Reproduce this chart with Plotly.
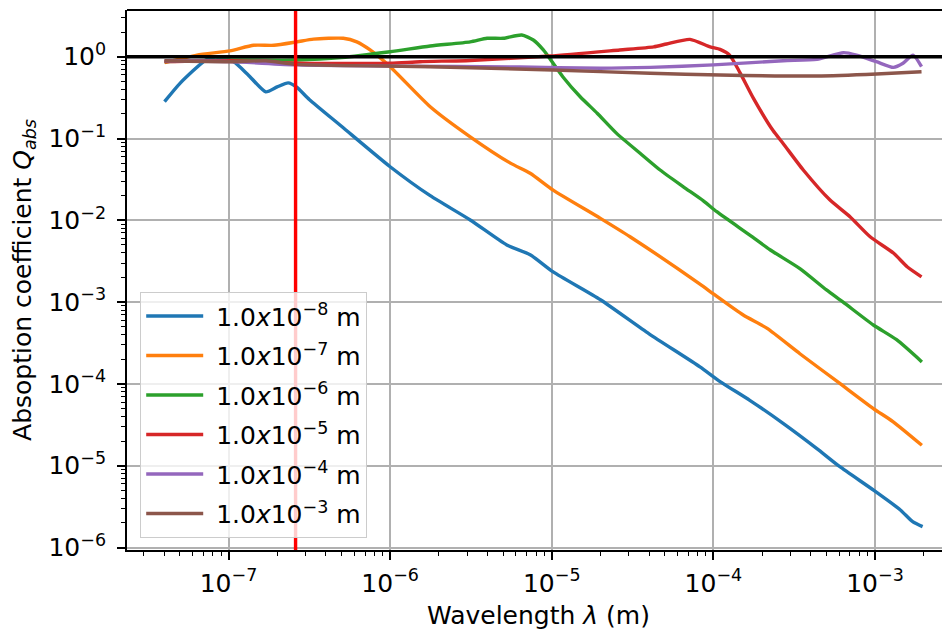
import plotly.graph_objects as go

# ---------------- data ----------------
NB = "\u00a0"
labels = [NB + "1.0<i>x</i>10<sup>−8</sup> m", NB + "1.0<i>x</i>10<sup>−7</sup> m",
          NB + "1.0<i>x</i>10<sup>−6</sup> m", NB + "1.0<i>x</i>10<sup>−5</sup> m",
          NB + "1.0<i>x</i>10<sup>−4</sup> m", NB + "1.0<i>x</i>10<sup>−3</sup> m"]
colors = ["#1f77b4", "#ff7f0e", "#2ca02c", "#d62728", "#9467bd", "#8c564b"]

wl_a = [4.02e-8, 5.01e-8, 7.24e-8, 8.32e-8, 1.07e-7, 1.32e-7, 1.70e-7, 2.0e-7,
        2.34e-7, 2.63e-7, 3.16e-7, 5.0e-7, 1.0e-6, 1.77e-6, 3.13e-6,
        5.27e-6, 7.35e-6, 1.02e-5, 2.0e-5, 4.0e-5, 8.26e-5, 1.10e-4, 1.68e-4,
        2.70e-4, 4.37e-4, 6.03e-4, 9.84e-4, 1.43e-3, 1.71e-3, 1.97e-3]
q_a = [0.282, 0.473, 0.912, 0.99, 0.871, 0.603, 0.372, 0.427,
       0.479, 0.427, 0.30, 0.141, 0.0452, 0.0200, 0.0101,
       5.0e-3, 3.8e-3, 2.34e-3, 1.07e-3, 4.1e-4, 1.62e-4, 1.07e-4, 6.3e-5,
       3.3e-5, 1.62e-5, 9.8e-6, 5.0e-6, 2.9e-6, 2.07e-6, 1.8e-6]

wl_b = [4.02e-8, 6.38e-8, 1.02e-7, 1.43e-7, 1.91e-7, 2.65e-7, 3.36e-7, 5.13e-7,
        6.22e-7, 7.52e-7, 1.0e-6, 1.77e-6, 3.13e-6, 5.55e-6, 7.35e-6, 1.02e-5,
        2.0e-5, 3.05e-5, 8.26e-5, 1.0e-4, 1.53e-4, 2.14e-4, 3.43e-4, 6.03e-4,
        9.77e-4, 1.29e-3, 1.95e-3]
q_b = [0.845, 1.047, 1.18, 1.38, 1.38, 1.52, 1.64, 1.68,
       1.52, 1.21, 0.755, 0.245, 0.105, 0.050, 0.0376, 0.0234,
       0.01057, 6.3e-3, 1.66e-3, 1.26e-3, 6.95e-4, 4.8e-4, 2.34e-4, 1.02e-4,
       5.0e-5, 3.47e-5, 1.78e-5]

wl_c = [4.02e-8, 1.02e-7, 2.65e-7, 5.0e-7, 1.0e-6, 1.77e-6, 3.13e-6, 3.98e-6,
        5.01e-6, 6.52e-6, 7.69e-6, 8.87e-6, 1.02e-5, 1.17e-5, 1.50e-5, 1.91e-5,
        2.52e-5, 3.52e-5, 4.68e-5, 6.52e-5, 8.71e-5, 1.05e-4, 1.68e-4, 2.24e-4,
        3.43e-4, 5.01e-4, 6.35e-4, 9.77e-4, 1.36e-3, 1.95e-3]
q_c = [0.871, 0.912, 0.912, 0.977, 1.15, 1.35, 1.52, 1.68,
       1.68, 1.84, 1.60, 1.21, 0.832, 0.57, 0.324, 0.204,
       0.1156, 0.066, 0.0412, 0.0257, 0.0172, 0.01274, 6.6e-3, 4.37e-3,
       2.57e-3, 1.41e-3, 1.0e-3, 5.25e-4, 3.47e-4, 1.86e-4]

wl_d = [4.02e-8, 1.02e-7, 2.65e-7, 1.0e-6, 1.53e-6, 3.13e-6, 9.77e-6, 2.63e-5,
        4.27e-5, 5.13e-5, 7.16e-5, 9.55e-5, 1.10e-4, 1.26e-4, 1.46e-4, 1.77e-4,
        2.34e-4, 2.70e-4, 3.60e-4, 5.25e-4, 7.0e-4, 9.33e-4, 1.30e-3, 1.58e-3,
        1.94e-3]
q_d = [0.871, 0.891, 0.832, 0.832, 0.869, 0.90, 1.02, 1.21,
       1.32, 1.43, 1.63, 1.32, 1.23, 1.047, 0.64, 0.31,
       0.125, 0.087, 0.0412, 0.0178, 0.01107, 6.3e-3, 3.98e-3, 2.71e-3,
       2.04e-3]

wl_e = [4.02e-8, 1.02e-7, 2.65e-7, 1.0e-6, 6.37e-6, 2.0e-5, 4.07e-5, 1.0e-4,
        2.70e-4, 4.37e-4, 6.37e-4, 7.69e-4, 1.02e-3, 1.30e-3, 1.49e-3, 1.72e-3,
        1.94e-3]
q_e = [0.891, 0.871, 0.794, 0.767, 0.75, 0.724, 0.741, 0.794,
       0.893, 0.929, 1.12, 1.047, 0.869, 0.741, 0.832, 1.047,
       0.755]

wl_f = [4.02e-8, 1.02e-7, 1.70e-7, 2.65e-7, 1.77e-6, 1.02e-5, 4.07e-5, 1.10e-4,
        4.37e-4, 1.02e-3, 1.94e-3]
q_f = [0.891, 0.869, 0.891, 0.807, 0.755, 0.687, 0.627, 0.597,
       0.581, 0.615, 0.656]

series_wl = [wl_a, wl_b, wl_c, wl_d, wl_e, wl_f]
series_q = [q_a, q_b, q_c, q_d, q_e, q_f]

ref_wavelength = 2.6e-7   # red vertical marker
ref_q = 1.0               # black horizontal marker

x_ticks = [1e-7, 1e-6, 1e-5, 1e-4, 1e-3]
x_ticktext = ["10<sup>−7</sup>", "10<sup>−6</sup>", "10<sup>−5</sup>",
              "10<sup>−4</sup>", "10<sup>−3</sup>"]
y_ticks = [1e-6, 1e-5, 1e-4, 1e-3, 1e-2, 1e-1, 1e0]
y_ticktext = ["10<sup>−6</sup>", "10<sup>−5</sup>", "10<sup>−4</sup>",
              "10<sup>−3</sup>", "10<sup>−2</sup>", "10<sup>−1</sup>", "10<sup>0</sup>"]

# ---------------- figure ----------------
X_RANGE = [-7.628, -2.536]
Y_RANGE = [-6.03, 0.571]
FONT = "DejaVu Sans"

fig = go.Figure()
for i, (wl, q) in enumerate(zip(series_wl, series_q)):
    fig.add_trace(go.Scatter(
        x=wl, y=q, mode="lines", name=labels[i], legendgroup=str(i),
        line=dict(color=colors[i], width=3.4, shape="spline", smoothing=0.6)))

fig.add_trace(go.Scatter(x=[10 ** X_RANGE[0], 10 ** X_RANGE[1]], y=[ref_q, ref_q],
                         mode="lines", line=dict(color="black", width=3.4),
                         showlegend=False, hoverinfo="skip"))
fig.add_trace(go.Scatter(x=[ref_wavelength, ref_wavelength],
                         y=[10 ** Y_RANGE[0], 10 ** Y_RANGE[1]],
                         mode="lines", line=dict(color="red", width=3.4),
                         showlegend=False, hoverinfo="skip"))

x_minor = [m * 10.0 ** e for e in range(-8, -2) for m in range(2, 10)]
y_minor = [m * 10.0 ** e for e in range(-7, 1) for m in range(2, 10)]

axis_common = dict(
    type="log", showline=True, linecolor="black", linewidth=1.8,
    ticks="outside", ticklen=8, tickwidth=1.8, tickcolor="black",
    showgrid=True, gridcolor="#b0b0b0", gridwidth=1.8, zeroline=False,
    automargin=False,
    tickfont=dict(family=FONT, size=25, color="black"),
)

# the page body adds an 8 px offset, so the figure is 8 px smaller than the window
fig.update_layout(
    width=942, height=625,
    margin=dict(l=119, r=0, t=2, b=83),
    paper_bgcolor="white", plot_bgcolor="white",
    font=dict(family=FONT, color="black"),
    xaxis=dict(axis_common, range=X_RANGE, tickmode="array", tickvals=x_ticks,
               ticktext=x_ticktext, ticklabelstandoff=2,
               minor=dict(ticks="outside", ticklen=4.5, tickwidth=1.4, tickcolor="black",
                          tickmode="array", tickvals=x_minor, showgrid=False),
               title=dict(text="Wavelength <i>λ</i> (m)", standoff=10,
                          font=dict(family=FONT, size=25, color="black"))),
    yaxis=dict(axis_common, range=Y_RANGE, tickmode="array", tickvals=y_ticks,
               ticktext=y_ticktext, ticklabelstandoff=6,
               minor=dict(ticks="outside", ticklen=4.5, tickwidth=1.4, tickcolor="black",
                          tickmode="array", tickvals=y_minor, showgrid=False),
               title=dict(text="Absoption coefficient <i>Q</i><sub><i>abs</i></sub>",
                          standoff=12,
                          font=dict(family=FONT, size=25, color="black"))),
    legend=dict(x=0.0158, y=0.0222, xanchor="left", yanchor="bottom",
                bgcolor="rgba(255,255,255,0.8)", bordercolor="#cccccc", borderwidth=1.2,
                font=dict(family=FONT, size=25, color="black"),
                tracegroupgap=4, itemwidth=57),
    shapes=[dict(type="line", xref="paper", yref="paper", x0=0, x1=1, y0=1, y1=1,
                 line=dict(color="black", width=1.8))],
    showlegend=True,
)

fig.write_html("out.html")
